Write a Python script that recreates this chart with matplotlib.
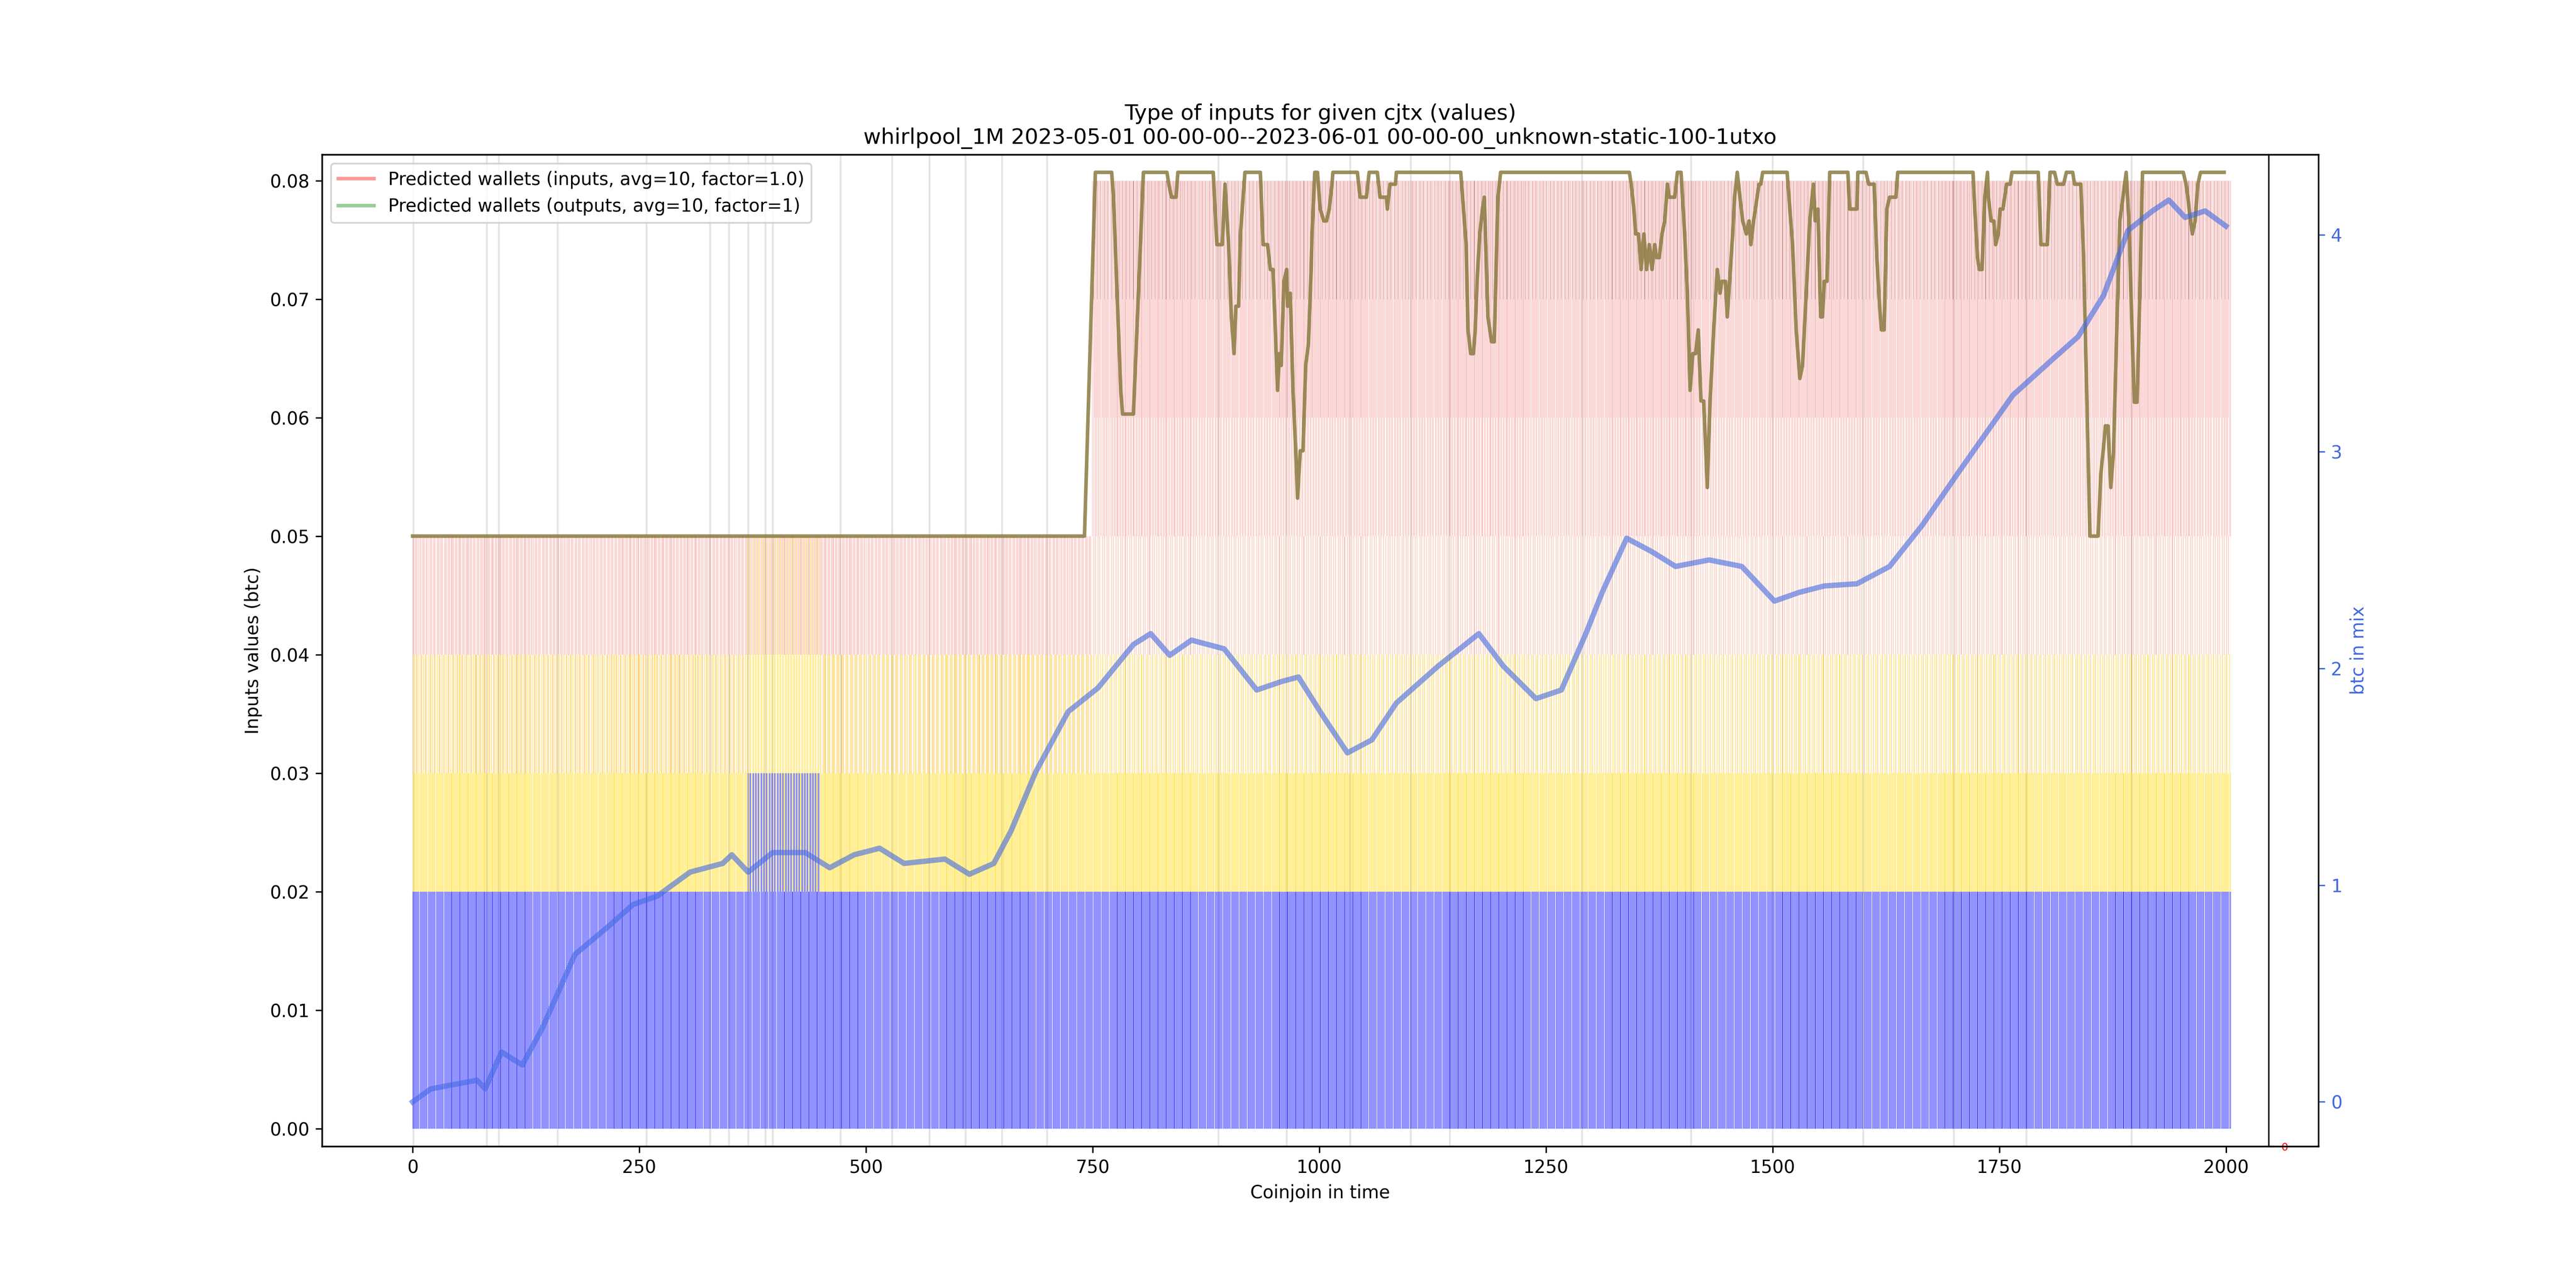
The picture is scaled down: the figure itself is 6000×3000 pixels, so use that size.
import numpy as np
import matplotlib
matplotlib.use("Agg")
import matplotlib.pyplot as plt
from matplotlib.colors import to_rgba
from matplotlib.lines import Line2D

# ---------------- data ----------------
n_coinjoins = 2006
input_value = 0.01
# regions: (start, end, palette per input layer, bottom->top)
region_starts = [0, 370, 450, 750]
region_ends = [370, 450, 750, 2006]
region_layers = [
    [["blue"], ["blue"], ["gold"], ["orange", "moccasin", "gold", "moccasin", "orange"], ["lightcoral", "lightcoral", "moccasin", "lightcoral"]],
    [["blue"], ["blue"], ["blue", "blue", "gold"], ["gold", "gold", "moccasin"], ["lightcoral", "gold", "lightcoral"]],
    [["blue"], ["blue"], ["gold"], ["orange", "moccasin", "moccasin", "orange", "gold"], ["lightcoral", "moccasin", "lightcoral", "lightcoral"]],
    [["blue"], ["blue"], ["gold"], ["moccasin", "orange", "moccasin", "moccasin", "gold"],
     ["moccasin", "lightcoral", "moccasin", "lightcoral", "moccasin"], ["lightcoral", "lightcoral", "moccasin"],
     ["lightcoral"], ["lightcoral", "lightcoral", "lightcoral", "darkred"]],
]
color_alpha = {"blue": 0.85, "gold": 0.8, "orange": 0.7, "moccasin": 0.45, "lightcoral": 0.6, "darkred": 0.5}

btc_x = [0, 20, 71, 80, 98, 121, 143, 179, 216, 243, 270, 306, 342, 352, 370, 397, 433, 460, 487, 515, 542,
         587, 614, 641, 660, 687, 723, 756, 795, 814, 835, 859, 895, 931, 959, 977, 1004, 1031, 1058, 1085,
         1131, 1176, 1203, 1239, 1267, 1294, 1312, 1339, 1366, 1393, 1430, 1466, 1502, 1529, 1557, 1593,
         1629, 1665, 1701, 1738, 1765, 1810, 1837, 1865, 1892, 1919, 1937, 1955, 1977, 2000]
btc_y = [0.0, 0.06, 0.10, 0.06, 0.23, 0.17, 0.34, 0.68, 0.81, 0.91, 0.95, 1.06, 1.10, 1.14, 1.06, 1.15, 1.15,
         1.08, 1.14, 1.17, 1.10, 1.12, 1.05, 1.10, 1.25, 1.52, 1.80, 1.91, 2.11, 2.16, 2.06, 2.13, 2.09,
         1.90, 1.94, 1.96, 1.78, 1.61, 1.67, 1.84, 2.01, 2.16, 2.01, 1.86, 1.90, 2.16, 2.35, 2.60, 2.54,
         2.47, 2.50, 2.47, 2.31, 2.35, 2.38, 2.39, 2.47, 2.66, 2.88, 3.10, 3.26, 3.43, 3.53, 3.72, 4.02,
         4.11, 4.16, 4.08, 4.11, 4.04]

wal_x = [0, 741, 753, 771, 773, 781, 783, 795, 806, 832, 834, 837, 842, 844, 883, 887, 893, 896, 900, 903,
         906, 908, 911, 913, 916, 918, 935, 938, 943, 946, 949, 954, 956, 958, 961, 964, 965, 968, 971, 974,
         976, 979, 982, 985, 988, 991, 992, 995, 998, 1001, 1005, 1008, 1011, 1014, 1015, 1042, 1045, 1052,
         1055, 1064, 1067, 1074, 1075, 1078, 1084, 1085,
         1156, 1160, 1162, 1164, 1167, 1170, 1172, 1174, 1177, 1180, 1182, 1186, 1190, 1193, 1197, 1200,
         1342, 1344, 1347, 1349, 1352, 1355, 1358, 1361, 1364, 1367, 1370, 1372, 1375, 1378, 1381, 1384,
         1386, 1392, 1395, 1399, 1403, 1406, 1409, 1412, 1415, 1418, 1421, 1424, 1428, 1431, 1435, 1439,
         1442, 1444, 1448, 1450, 1456, 1458, 1461, 1464, 1467, 1471, 1474, 1476, 1479, 1481, 1485, 1487,
         1489, 1516, 1519, 1522, 1526, 1530, 1533, 1537, 1541, 1545, 1547, 1550, 1553, 1555, 1557, 1560,
         1563, 1583, 1585, 1593, 1594, 1603, 1606, 1612, 1615, 1618, 1620, 1623, 1626, 1629, 1636, 1638,
         1721, 1723, 1726, 1728, 1731, 1734, 1737, 1738, 1741, 1744, 1746, 1749, 1751, 1754, 1756, 1758,
         1762, 1764, 1793, 1796, 1803, 1806, 1811, 1814, 1821, 1824, 1831, 1833, 1840, 1843, 1847, 1850,
         1859, 1862, 1866, 1867, 1870, 1873, 1876, 1880, 1883, 1890, 1893, 1896, 1899, 1902, 1905, 1908,
         1953, 1956, 1958, 1961, 1963, 1966, 1969, 1972, 1998]
wal_y = [0.05, 0.05, 0.0807, 0.0807, 0.0786, 0.0623, 0.0603, 0.0603, 0.0807, 0.0807, 0.0797, 0.0786, 0.0786,
         0.0807, 0.0807, 0.0746, 0.0746, 0.0797, 0.0746, 0.0685, 0.0654, 0.0694, 0.0694, 0.0755, 0.0786,
         0.0807, 0.0807, 0.0746, 0.0746, 0.0725, 0.0725, 0.0623, 0.0654, 0.0644, 0.0715, 0.0725, 0.0694,
         0.0705, 0.0623, 0.0572, 0.0532, 0.0572, 0.0572, 0.0644, 0.0662, 0.0725, 0.0755, 0.0807, 0.0807,
         0.0776, 0.0766, 0.0766, 0.0776, 0.0797, 0.0807, 0.0807, 0.0786, 0.0786, 0.0807, 0.0807, 0.0786,
         0.0786, 0.0776, 0.0797, 0.0797, 0.0807,
         0.0807, 0.0766, 0.0746, 0.0674, 0.0654, 0.0654, 0.0674, 0.0715, 0.0755, 0.0776, 0.0786, 0.0685,
         0.0664, 0.0664, 0.0786, 0.0807,
         0.0807, 0.0797, 0.0776, 0.0755, 0.0755, 0.0725, 0.0755, 0.0725, 0.0746, 0.0725, 0.0746, 0.0735,
         0.0735, 0.0755, 0.0766, 0.0797, 0.0786, 0.0786, 0.0807, 0.0807, 0.0755, 0.0704, 0.0623, 0.0654,
         0.0654, 0.0674, 0.0614, 0.0614, 0.0541, 0.0614, 0.0674, 0.0725, 0.0705, 0.0715, 0.0715, 0.0685,
         0.0755, 0.0786, 0.0807, 0.0786, 0.0766, 0.0755, 0.0766, 0.0746, 0.0766, 0.0776, 0.0797, 0.0797,
         0.0807, 0.0807, 0.0776, 0.0746, 0.0674, 0.0633, 0.0644, 0.0704, 0.0766, 0.0797, 0.0766, 0.0776,
         0.0685, 0.0685, 0.0715, 0.0715,
         0.0807, 0.0807, 0.0776, 0.0776, 0.0807, 0.0807, 0.0797, 0.0797, 0.0735, 0.0694, 0.0674, 0.0674,
         0.0776, 0.0786, 0.0786, 0.0807,
         0.0807, 0.0776, 0.0735, 0.0725, 0.0725, 0.0786, 0.0807, 0.0786, 0.0766, 0.0766, 0.0746, 0.0755,
         0.0776, 0.0776, 0.0786, 0.0797, 0.0797, 0.0807, 0.0807, 0.0746, 0.0746, 0.0807, 0.0807, 0.0797,
         0.0797, 0.0807, 0.0807, 0.0797, 0.0797, 0.0735, 0.0603, 0.05, 0.05, 0.0552, 0.0583, 0.0593,
         0.0593, 0.0541, 0.0571, 0.0685, 0.0766, 0.0807, 0.0766, 0.0685, 0.0613, 0.0613, 0.0704, 0.0807,
         0.0807, 0.0797, 0.0786, 0.0766, 0.0755, 0.0766, 0.0797, 0.0807, 0.0807]

day_lines = [1, 82, 95, 160, 258, 328, 349, 370, 389, 397, 472, 529, 570, 610, 650, 700, 889, 964, 1034,
             1101, 1144, 1290, 1410, 1500, 1600, 1700, 1780, 1896]

# ---------------- plot ----------------
fig = plt.figure(figsize=(20, 10), dpi=300)
ax = fig.add_subplot(111)
x = np.arange(n_coinjoins)

for xv in day_lines:
    ax.axvline(xv, color="lightgray", alpha=0.6, lw=1, zorder=0)

max_layers = max(len(l) for l in region_layers)
for k in range(max_layers):
    cols = []
    hts = []
    for s, e, layers in zip(region_starts, region_ends, region_layers):
        for i in range(s, e):
            if k < len(layers):
                pal = layers[k]
                c = pal[i % len(pal)]
                cols.append(to_rgba(c, color_alpha[c]))
                hts.append(input_value)
            else:
                cols.append((0, 0, 0, 0))
                hts.append(0.0)
    ax.bar(x, hts, bottom=k * input_value, width=0.5, color=cols, linewidth=0, zorder=1)

ax.plot(wal_x, wal_y, color="#8a7a40", alpha=0.85, lw=2, zorder=3)
h1 = Line2D([], [], color="red", alpha=0.4, lw=2)
h2 = Line2D([], [], color="green", alpha=0.4, lw=2)
ax.legend([h1, h2], ["Predicted wallets (inputs, avg=10, factor=1.0)",
                     "Predicted wallets (outputs, avg=10, factor=1)"], loc="upper left")

ax.set_xlim(-100, 2102)
ax.set_ylim(-0.0015, 0.0822)
ax.set_xlabel("Coinjoin in time")
ax.set_ylabel("Inputs values (btc)")
ax.set_title("Type of inputs for given cjtx (values)\n"
             "whirlpool_1M 2023-05-01 00-00-00--2023-06-01 00-00-00_unknown-static-100-1utxo")

ax2 = ax.twinx()
ax2.plot(btc_x, btc_y, color="royalblue", alpha=0.6, lw=3)
ax2.set_ylim(-0.205, 4.37)
ax2.set_yticks([0, 1, 2, 3, 4])
ax2.set_ylabel("btc in mix", color="royalblue")
ax2.tick_params(axis="y", colors="royalblue")

ax3 = ax.twinx()
ax3.spines["right"].set_position(("axes", 0.975))
ax3.set_ylim(0, 1)
ax3.set_yticks([0])
ax3.tick_params(axis="y", colors="red", labelsize=6)

fig.savefig("out.png", dpi=300)
